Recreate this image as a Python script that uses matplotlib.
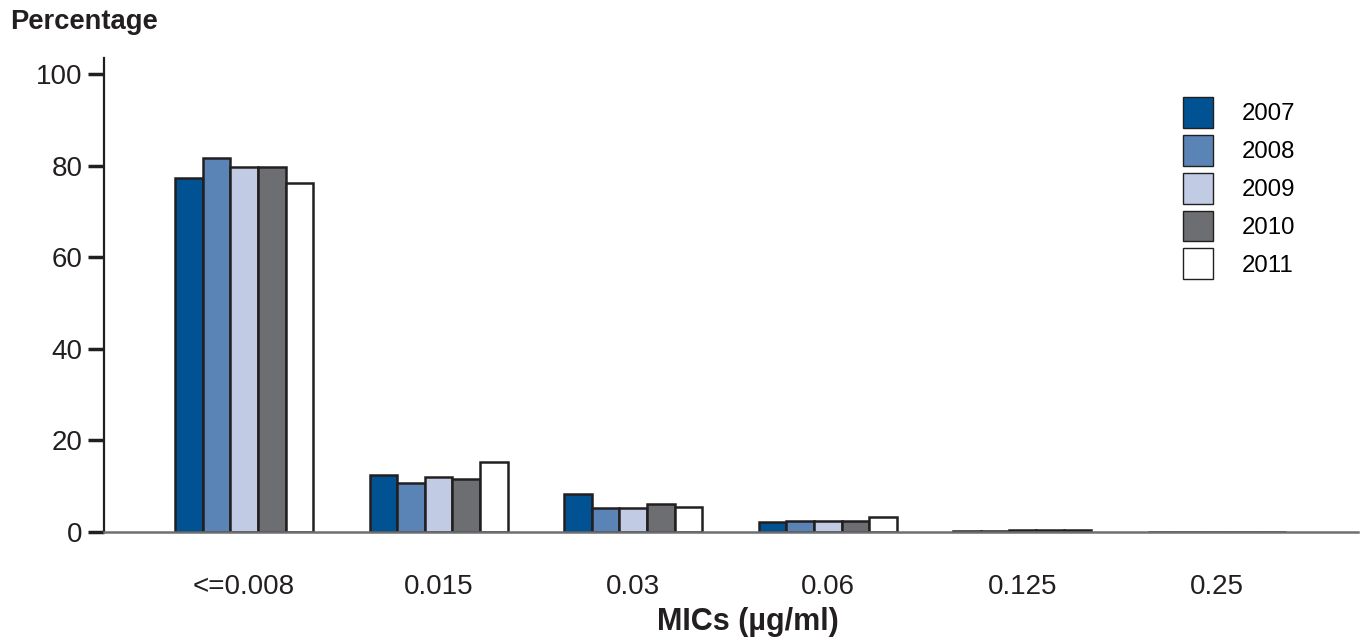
import numpy as np
import matplotlib.pyplot as plt
from matplotlib.patches import Patch

plt.rcParams["font.family"] = ["Liberation Sans", "DejaVu Sans"]

mic_labels = ["<=0.008", "0.015", "0.03", "0.06", "0.125", "0.25"]
years = ["2007", "2008", "2009", "2010", "2011"]

pct_2007 = [77.3, 12.4, 8.3, 2.2, 0.2, 0.1]
pct_2008 = [81.7, 10.7, 5.3, 2.4, 0.2, 0.0]
pct_2009 = [79.7, 12.0, 5.3, 2.4, 0.4, 0.0]
pct_2010 = [79.7, 11.6, 6.1, 2.4, 0.4, 0.1]
pct_2011 = [76.2, 15.3, 5.5, 3.3, 0.4, 0.1]

colors = ["#005293", "#5b84b6", "#c1cce4", "#6d6e71", "#ffffff"]
edge = "#231f20"


def main():
    series = [pct_2007, pct_2008, pct_2009, pct_2010, pct_2011]

    fig = plt.figure(figsize=(13.61, 6.40), dpi=100)
    ax = fig.add_axes([104 / 1361, 1 - 532 / 640, (1358 - 104) / 1361, (532 - 58) / 640])

    x = np.arange(len(mic_labels))
    w = 0.142
    for i, (vals, c) in enumerate(zip(series, colors)):
        ax.bar(x + (i - 2) * w, vals, width=w, color=c, edgecolor=edge,
               linewidth=1.8, zorder=2)

    ax.set_xlim(-0.72, 5.725)
    ax.set_ylim(0, 103.5)
    ax.set_yticks([0, 20, 40, 60, 80, 100])
    ax.set_xticks(x)
    ax.set_xticklabels(mic_labels, fontsize=20, color="#231f20")
    ax.tick_params(axis="x", length=0, pad=30)
    ax.tick_params(axis="y", length=11.5, width=2.5, color=edge, pad=4,
                   labelsize=20, labelcolor="#231f20")

    for s in ["top", "right"]:
        ax.spines[s].set_visible(False)
    ax.spines["left"].set_color(edge)
    ax.spines["left"].set_linewidth(1.6)
    ax.spines["bottom"].set_color("#6d6e71")
    ax.spines["bottom"].set_linewidth(1.8)
    ax.spines["bottom"].set_zorder(3)

    fig.text(10 / 1361, 1 - 22 / 640, "Percentage", fontsize=19.7,
             fontweight="bold", va="center", ha="left", color="#231f20")
    fig.text(748 / 1361, 1 - 622 / 640, "MICs (\u00b5g/ml)", fontsize=22,
             fontweight="bold", va="center", ha="center", color="#231f20")

    handles = [Patch(facecolor=c, edgecolor=edge, linewidth=1.0) for c in colors]
    fig.legend(handles, years, loc="upper left",
               bbox_to_anchor=(1183 / 1361, 1 - 97 / 640), frameon=False,
               fontsize=17.3, handlelength=1.25, handleheight=1.6,
               labelspacing=0.29, handletextpad=1.2, borderpad=0,
               borderaxespad=0)

    fig.savefig("out.png", dpi=100)
    plt.close(fig)


if __name__ == "__main__":
    main()
